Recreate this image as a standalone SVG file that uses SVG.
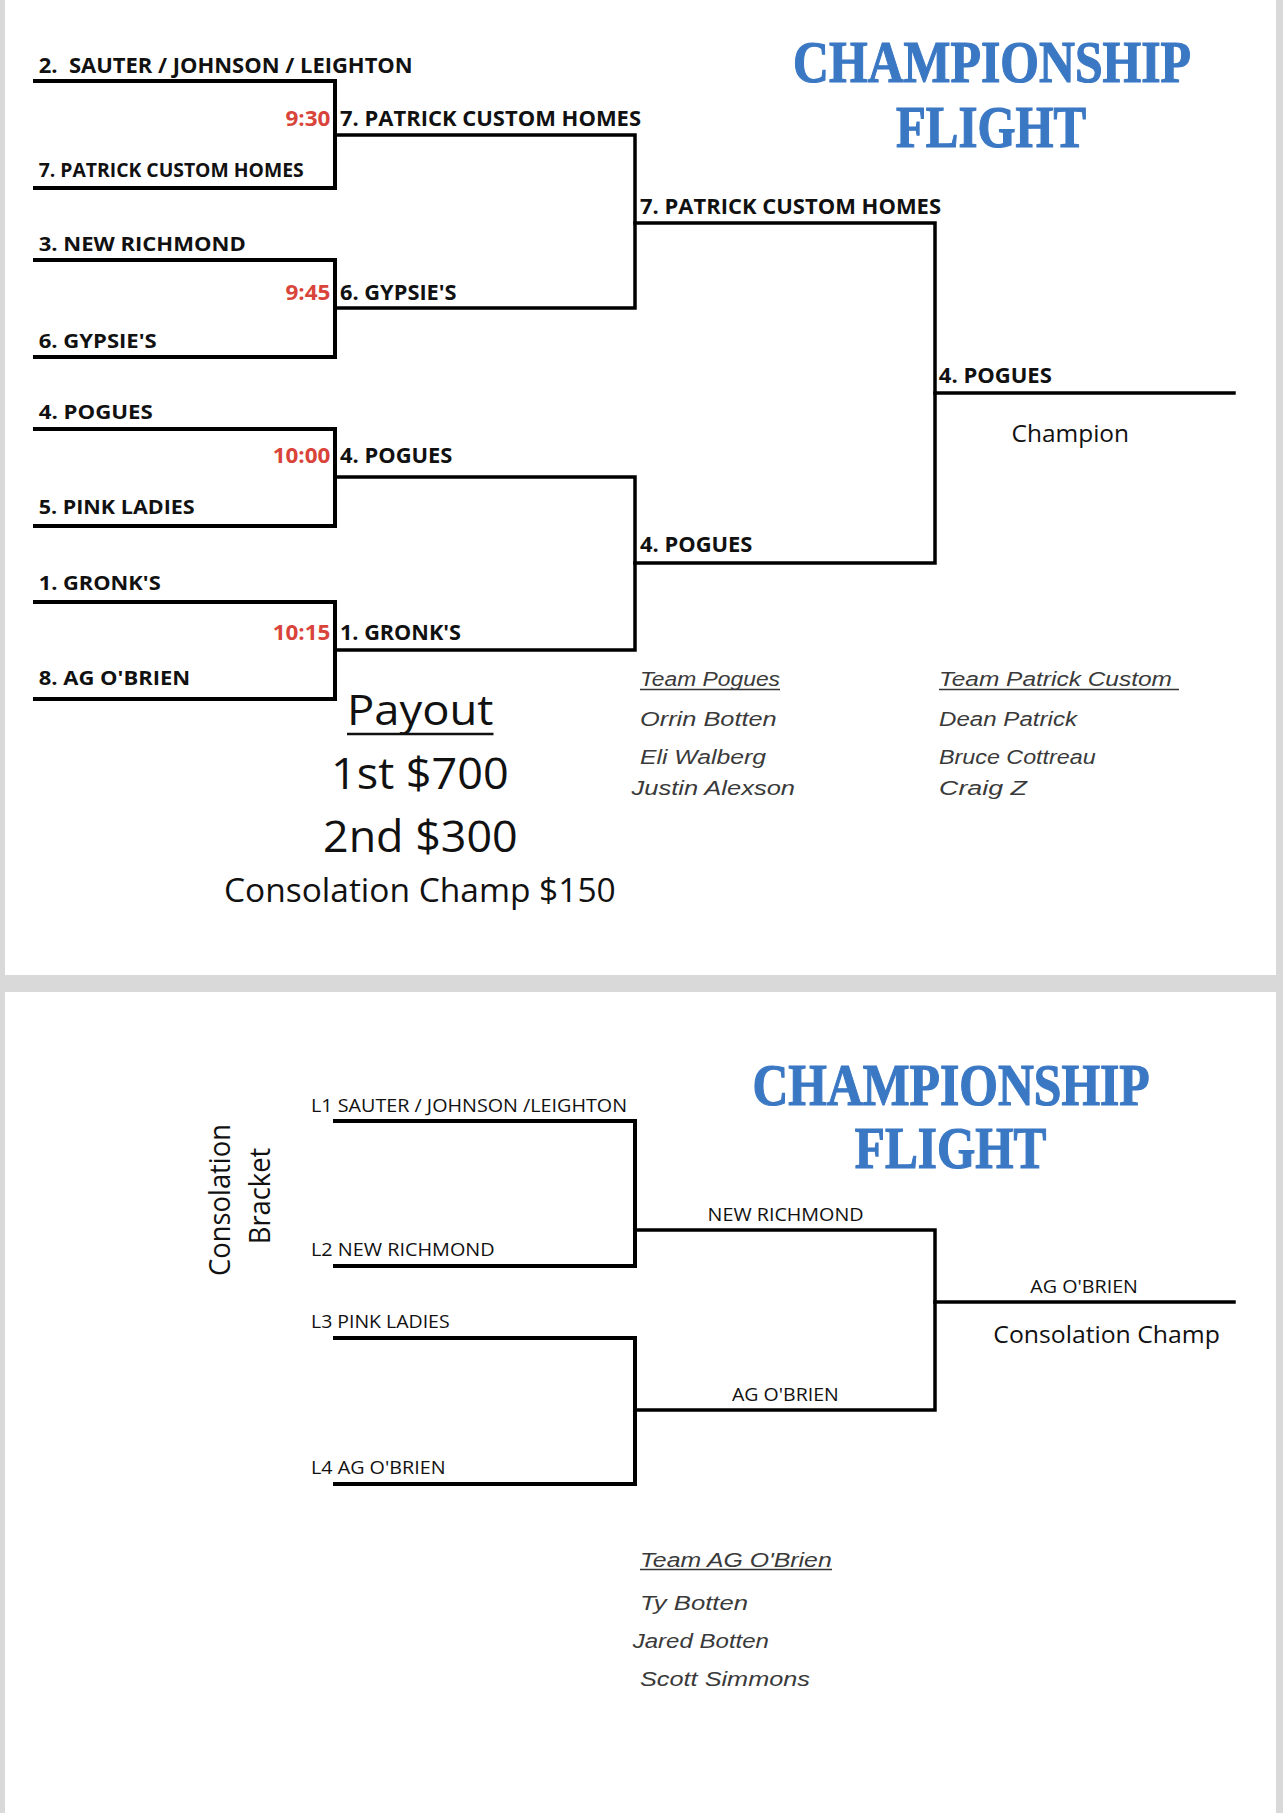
<svg xmlns="http://www.w3.org/2000/svg" width="1283" height="1813" viewBox="0 0 1283 1813">
<style>
.bg{fill:#d9d9d9}
.page{fill:#ffffff}
.b{font-family:"Open Sans","Liberation Sans",sans-serif;font-weight:bold;font-size:21px;fill:#111}
.b1{font-size:19.5px}
.t{font-family:"Open Sans","Liberation Sans",sans-serif;font-weight:bold;font-size:21px;fill:#d9443a}
.r{font-family:"Open Sans","Liberation Sans",sans-serif;font-size:19px;fill:#111}
.big{font-family:"Open Sans","Liberation Sans",sans-serif;fill:#111}
.title{font-family:"Liberation Serif","DejaVu Serif",serif;font-weight:bold;font-size:59px;fill:#3b78c4;stroke:#3b78c4;stroke-width:1.2}
.hw{font-family:"Liberation Sans","DejaVu Sans",sans-serif;font-style:italic;font-size:20px;fill:#3a3a3a}
.w1{fill:none;stroke:#000;stroke-width:4;stroke-linecap:square}
.w2{fill:none;stroke:#000;stroke-width:3.5;stroke-linecap:square}
.ul{stroke:#333;stroke-width:1.6}
</style>
<rect class="bg" x="0" y="0" width="1283" height="1813"/>
<rect class="page" x="5" y="0" width="1271" height="975"/>
<rect class="page" x="5" y="992" width="1271" height="821"/>

<g id="connectors">
  <path class="w1" d="M35,81 H335 V188 H35"/>
  <path class="w1" d="M35,260 H335 V357 H35"/>
  <path class="w1" d="M35,429 H335 V526 H35"/>
  <path class="w1" d="M35,602 H335 V699 H35"/>
  <path class="w2" d="M335,135 H635 V308 H335"/>
  <path class="w2" d="M335,477 H635 V650 H335"/>
  <path class="w2" d="M635,223 H935 V563 H635"/>
  <path class="w2" d="M935,393 H1234"/>
  <path class="w1" d="M335,1121 H635 V1266 H335"/>
  <path class="w1" d="M335,1338 H635 V1484 H335"/>
  <path class="w2" d="M635,1230 H935 V1410 H635"/>
  <path class="w2" d="M935,1302 H1234"/>
</g>

<g id="title1">
  <text class="title" x="793" y="82" textLength="398" lengthAdjust="spacingAndGlyphs">CHAMPIONSHIP</text>
  <text class="title" x="896" y="146.5" textLength="190" lengthAdjust="spacingAndGlyphs">FLIGHT</text>
</g>

<g id="r1-seed2"><text class="b" x="38.7" y="72.7" xml:space="preserve" textLength="374" lengthAdjust="spacingAndGlyphs">2.  SAUTER / JOHNSON / LEIGHTON</text></g>
<g id="r1-seed7"><text class="b b1" x="38.7" y="176.7" textLength="265" lengthAdjust="spacingAndGlyphs">7. PATRICK CUSTOM HOMES</text></g>
<g id="r1-seed3"><text class="b b1" x="38.7" y="250.7" textLength="207" lengthAdjust="spacingAndGlyphs">3. NEW RICHMOND</text></g>
<g id="r1-seed6"><text class="b b1" x="38.7" y="347.7" textLength="118" lengthAdjust="spacingAndGlyphs">6. GYPSIE'S</text></g>
<g id="r1-seed4"><text class="b b1" x="38.7" y="419.3" textLength="114" lengthAdjust="spacingAndGlyphs">4. POGUES</text></g>
<g id="r1-seed5"><text class="b b1" x="38.7" y="514.3" textLength="156" lengthAdjust="spacingAndGlyphs">5. PINK LADIES</text></g>
<g id="r1-seed1"><text class="b b1" x="38.7" y="590" textLength="122" lengthAdjust="spacingAndGlyphs">1. GRONK'S</text></g>
<g id="r1-seed8"><text class="b b1" x="38.7" y="685" textLength="151.5" lengthAdjust="spacingAndGlyphs">8. AG O'BRIEN</text></g>

<g id="r2-game1">
  <text class="t" x="285.4" y="126" textLength="45" lengthAdjust="spacingAndGlyphs">9:30</text>
  <text class="b" x="340" y="126" textLength="301" lengthAdjust="spacingAndGlyphs">7. PATRICK CUSTOM HOMES</text>
</g>
<g id="r2-game2">
  <text class="t" x="285.4" y="300" textLength="45" lengthAdjust="spacingAndGlyphs">9:45</text>
  <text class="b" x="340" y="300" textLength="116.6" lengthAdjust="spacingAndGlyphs">6. GYPSIE'S</text>
</g>
<g id="r2-game3">
  <text class="t" x="272.7" y="463.3" textLength="57.7" lengthAdjust="spacingAndGlyphs">10:00</text>
  <text class="b" x="340" y="463.3" textLength="112.4" lengthAdjust="spacingAndGlyphs">4. POGUES</text>
</g>
<g id="r2-game4">
  <text class="t" x="272.7" y="640" textLength="57.7" lengthAdjust="spacingAndGlyphs">10:15</text>
  <text class="b" x="340" y="640" textLength="121" lengthAdjust="spacingAndGlyphs">1. GRONK'S</text>
</g>
<g id="r3-top"><text class="b" x="640" y="214.3" textLength="301" lengthAdjust="spacingAndGlyphs">7. PATRICK CUSTOM HOMES</text></g>
<g id="r3-bottom"><text class="b" x="640" y="552" textLength="112.4" lengthAdjust="spacingAndGlyphs">4. POGUES</text></g>
<g id="champion">
  <text class="b" x="938.8" y="382.7" textLength="113" lengthAdjust="spacingAndGlyphs">4. POGUES</text>
  <text class="big" x="1011.6" y="442" font-size="24" textLength="117.4" lengthAdjust="spacingAndGlyphs">Champion</text>
</g>

<g id="payout">
  <text class="big" x="347" y="725" font-size="42" textLength="146.5" lengthAdjust="spacingAndGlyphs">Payout</text>
  <line x1="347" y1="734" x2="493.5" y2="734" stroke="#111" stroke-width="2.6"/>
  <text class="big" x="331" y="789.3" font-size="43" textLength="177.7" lengthAdjust="spacingAndGlyphs">1st $700</text>
  <text class="big" x="323" y="852.3" font-size="43" textLength="194.7" lengthAdjust="spacingAndGlyphs">2nd $300</text>
  <text class="big" x="224" y="902.3" font-size="32" textLength="391.7" lengthAdjust="spacingAndGlyphs">Consolation Champ $150</text>
</g>

<g id="team-pogues">
  <text class="hw" x="640" y="686" textLength="140" lengthAdjust="spacingAndGlyphs">Team Pogues</text>
  <line class="ul" x1="640" y1="689.5" x2="780" y2="689.5"/>
  <text class="hw" x="640" y="726" textLength="136.7" lengthAdjust="spacingAndGlyphs">Orrin Botten</text>
  <text class="hw" x="640" y="764" textLength="126" lengthAdjust="spacingAndGlyphs">Eli Walberg</text>
  <text class="hw" x="631.6" y="795" textLength="163.4" lengthAdjust="spacingAndGlyphs">Justin Alexson</text>
</g>
<g id="team-patrick">
  <text class="hw" x="939" y="686" textLength="233" lengthAdjust="spacingAndGlyphs">Team Patrick Custom</text>
  <line class="ul" x1="939" y1="689.5" x2="1179" y2="689.5"/>
  <text class="hw" x="939" y="726" textLength="138" lengthAdjust="spacingAndGlyphs">Dean Patrick</text>
  <text class="hw" x="939" y="764" textLength="156.7" lengthAdjust="spacingAndGlyphs">Bruce Cottreau</text>
  <text class="hw" x="939" y="795" textLength="88" lengthAdjust="spacingAndGlyphs">Craig Z</text>
</g>

<g id="title2">
  <text class="title" x="752.4" y="1105" textLength="397.3" lengthAdjust="spacingAndGlyphs">CHAMPIONSHIP</text>
  <text class="title" x="854.8" y="1168.3" textLength="191.6" lengthAdjust="spacingAndGlyphs">FLIGHT</text>
</g>
<g id="consolation-label">
  <text class="big" font-size="30" text-anchor="middle" transform="translate(230,1200) rotate(-90)" textLength="152" lengthAdjust="spacingAndGlyphs">Consolation</text>
  <text class="big" font-size="30" text-anchor="middle" transform="translate(270,1196) rotate(-90)" textLength="96.5" lengthAdjust="spacingAndGlyphs">Bracket</text>
</g>
<g id="c-l1"><text class="r" x="311" y="1111.8" textLength="316" lengthAdjust="spacingAndGlyphs">L1 SAUTER / JOHNSON /LEIGHTON</text></g>
<g id="c-l2"><text class="r" x="311" y="1256.4" textLength="183.6" lengthAdjust="spacingAndGlyphs">L2 NEW RICHMOND</text></g>
<g id="c-l3"><text class="r" x="311" y="1327.9" textLength="138.6" lengthAdjust="spacingAndGlyphs">L3 PINK LADIES</text></g>
<g id="c-l4"><text class="r" x="311" y="1473.6" textLength="134.5" lengthAdjust="spacingAndGlyphs">L4 AG O'BRIEN</text></g>
<g id="c-r2-top"><text class="r" x="707.6" y="1221" textLength="156" lengthAdjust="spacingAndGlyphs">NEW RICHMOND</text></g>
<g id="c-r2-bottom"><text class="r" x="732" y="1401" textLength="106.7" lengthAdjust="spacingAndGlyphs">AG O'BRIEN</text></g>
<g id="c-champ">
  <text class="r" x="1030.3" y="1293.3" textLength="107.6" lengthAdjust="spacingAndGlyphs">AG O'BRIEN</text>
  <text class="big" x="993.3" y="1342.7" font-size="24" textLength="226.5" lengthAdjust="spacingAndGlyphs">Consolation Champ</text>
</g>
<g id="team-agobrien">
  <text class="hw" x="640" y="1566.7" textLength="191.7" lengthAdjust="spacingAndGlyphs">Team AG O'Brien</text>
  <line class="ul" x1="640" y1="1569.5" x2="832" y2="1569.5"/>
  <text class="hw" x="640" y="1610" textLength="108" lengthAdjust="spacingAndGlyphs">Ty Botten</text>
  <text class="hw" x="632.7" y="1648" textLength="136.3" lengthAdjust="spacingAndGlyphs">Jared Botten</text>
  <text class="hw" x="640" y="1686" textLength="170" lengthAdjust="spacingAndGlyphs">Scott Simmons</text>
</g>
</svg>
